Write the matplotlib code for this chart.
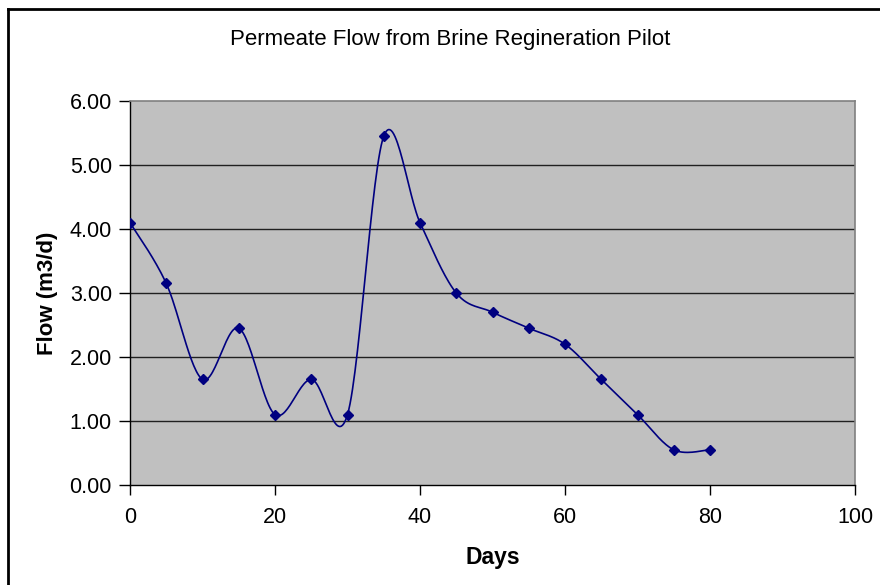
import numpy as np
import matplotlib
matplotlib.use("Agg")
import matplotlib.pyplot as plt
from matplotlib.lines import Line2D

plt.rcParams['font.family'] = ['Liberation Sans', 'DejaVu Sans']

days = [0, 5, 10, 15, 20, 25, 30, 35, 40, 45, 50, 55, 60, 65, 70, 75, 80]
flow = [4.10, 3.15, 1.65, 2.45, 1.10, 1.65, 1.10, 5.45, 4.10, 3.00,
        2.70, 2.45, 2.20, 1.65, 1.10, 0.55, 0.55]
x_ticks = [0, 20, 40, 60, 80, 100]
y_ticks = [0, 1, 2, 3, 4, 5, 6]


def smooth(xs, ys, n=30):
    # excel style smoothed line: bezier through points, catmull-rom controls
    p = np.column_stack([xs, ys]).astype(float)
    p = np.vstack([p[0], p, p[-1]])
    outx, outy = [], []
    t = np.linspace(0, 1, n)[:, None]
    for i in range(1, len(p) - 2):
        a, b = p[i], p[i + 1]
        c1 = a + (b - p[i - 1]) / 6
        c2 = b - (p[i + 2] - a) / 6
        seg = (1 - t) ** 3 * a + 3 * (1 - t) ** 2 * t * c1 \
            + 3 * (1 - t) * t ** 2 * c2 + t ** 3 * b
        outx.extend(seg[:, 0])
        outy.extend(seg[:, 1])
    return outx, outy


fig = plt.figure(figsize=(8.8, 5.85), dpi=100)
ax = fig.add_axes([130 / 880, 1 - 485 / 585, 725 / 880, 384 / 585])
ax.set_facecolor('#c0c0c0')

for y in y_ticks[1:-1]:
    ax.axhline(y, color='#202020', lw=1.0, zorder=1)

sx, sy = smooth(days, flow)
ax.plot(sx, sy, color='#000080', lw=1.2, zorder=3)
ax.plot(days, flow, ls='none', marker='D', ms=5.5, color='#000080', zorder=4)

ax.set_xlim(0, 100)
ax.set_ylim(0, 6)
ax.set_xticks(x_ticks)
ax.set_yticks(y_ticks)
ax.set_yticklabels([f"{v:.2f}" for v in y_ticks])
ax.tick_params(direction='out', width=1, labelsize=15.5)
ax.tick_params(axis='y', length=8, pad=5)
ax.tick_params(axis='x', length=7, pad=9)

for s in ['top', 'right']:
    ax.spines[s].set_color('#808080')
    ax.spines[s].set_linewidth(1.2)
for s in ['left', 'bottom']:
    ax.spines[s].set_color('black')
    ax.spines[s].set_linewidth(1.0)

ax.set_xlabel('Days', fontsize=16.5, fontweight='bold', labelpad=13)
ax.set_ylabel('Flow (m3/d)', fontsize=16, fontweight='bold', labelpad=8)
fig.text(450 / 880, 1 - 40 / 585, 'Permeate Flow from Brine Regineration Pilot',
         ha='center', va='center', fontsize=16)

# outer chart border (left and top visible)
fig.add_artist(Line2D([8 / 880, 8 / 880], [0, 1 - 9 / 585], color='black', lw=2,
                      transform=fig.transFigure))
fig.add_artist(Line2D([8 / 880, 1], [1 - 9 / 585, 1 - 9 / 585], color='black', lw=2,
                      transform=fig.transFigure))

fig.savefig('out.png', dpi=100)
